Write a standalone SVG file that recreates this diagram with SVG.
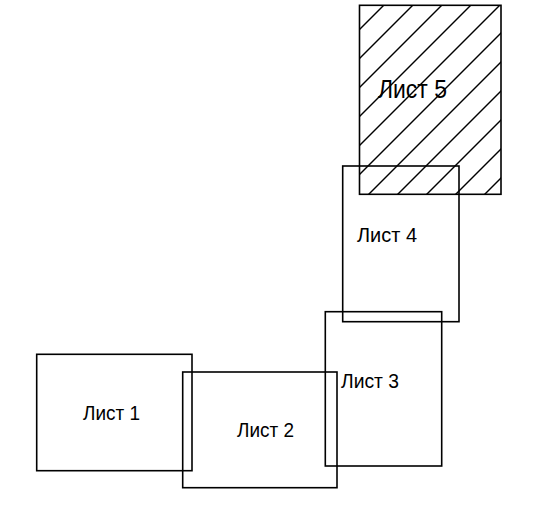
<svg xmlns="http://www.w3.org/2000/svg" width="540" height="509" viewBox="0 0 540 509">
<style>
.sheet{fill:none;stroke:#000;stroke-width:1.6}
.hatch{stroke:#000;stroke-width:1.4}
.lbl{font-family:"Liberation Sans",Arial,sans-serif;fill:#000}
</style>
<defs>
<clipPath id="c5"><rect x="359.5" y="5.3" width="141.5" height="189"/></clipPath>
</defs>
<rect width="540" height="509" fill="#fff"/>
<g id="sheet5">
<g class="hatch" clip-path="url(#c5)">
<line x1="589" y1="-200" x2="189" y2="200"/>
<line x1="618" y1="-200" x2="218" y2="200"/>
<line x1="647" y1="-200" x2="247" y2="200"/>
<line x1="676" y1="-200" x2="276" y2="200"/>
<line x1="705" y1="-200" x2="305" y2="200"/>
<line x1="734" y1="-200" x2="334" y2="200"/>
<line x1="763" y1="-200" x2="363" y2="200"/>
<line x1="792" y1="-200" x2="392" y2="200"/>
<line x1="821" y1="-200" x2="421" y2="200"/>
<line x1="850" y1="-200" x2="450" y2="200"/>
<line x1="879" y1="-200" x2="479" y2="200"/>
</g>
<rect class="sheet" x="359.5" y="5.3" width="141.5" height="189"/>
<text class="lbl" x="378" y="98" font-size="26" textLength="69" lengthAdjust="spacingAndGlyphs">Лист 5</text>
</g>
<g id="sheet4">
<rect class="sheet" x="342.7" y="166" width="116.3" height="155.7"/>
<text class="lbl" x="357" y="242" font-size="20" textLength="60" lengthAdjust="spacingAndGlyphs">Лист 4</text>
</g>
<g id="sheet3">
<rect class="sheet" x="325.3" y="311.7" width="116.4" height="154.3"/>
<text class="lbl" x="341" y="388" font-size="21" textLength="58" lengthAdjust="spacingAndGlyphs">Лист 3</text>
</g>
<g id="sheet1">
<rect class="sheet" x="36.7" y="354.3" width="155.3" height="116.4"/>
<text class="lbl" x="83" y="420" font-size="21" textLength="57" lengthAdjust="spacingAndGlyphs">Лист 1</text>
</g>
<g id="sheet2">
<rect class="sheet" x="182.7" y="372" width="154.3" height="115.7"/>
<text class="lbl" x="237" y="437" font-size="21" textLength="57" lengthAdjust="spacingAndGlyphs">Лист 2</text>
</g>
<g id="connectors"/>
</svg>
